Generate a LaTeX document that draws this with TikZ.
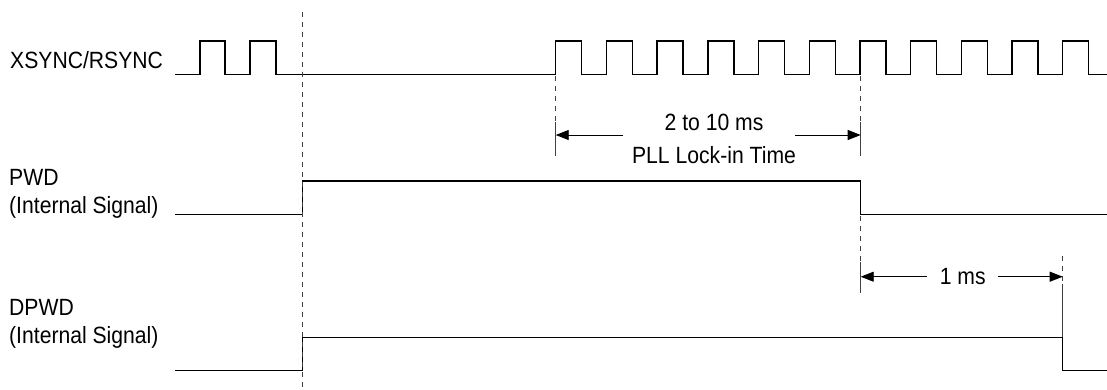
\documentclass[tikz,border=0pt]{standalone}
\usepackage{fontspec}
\setmainfont{Liberation Sans}[FakeStretch=0.9]
\usetikzlibrary{arrows.meta}
\begin{document}
\begin{tikzpicture}[x=1pt,y=-1pt,
  sig/.style={line width=1.4pt,line join=miter},
  guide/.style={line width=0.9pt,dash pattern=on 5pt off 5pt,black!75},
  ext/.style={line width=0.9pt,black!75},
  dimarrow/.style={line width=0.9pt,-{Triangle[length=13pt,width=10pt]}},
  lbl/.style={anchor=base west,inner sep=0pt,font=\fontsize{23.5}{28}\selectfont},
  dimtxt/.style={anchor=base,inner sep=0pt,font=\fontsize{23.5}{28}\selectfont}]
\useasboundingbox (0,0) rectangle (1107,389);
% labels
\node[lbl] (lx) at (10,68.3) {XSYNC/RSYNC};
\node[lbl] (lp1) at (9,185) {PWD};
\node[lbl] (lp2) at (9,213.3) {(Internal Signal)};
\node[lbl] (ld1) at (9,315) {DPWD};
\node[lbl] (ld2) at (9,343.3) {(Internal Signal)};
% signals
\draw[sig] (175,74.3) -- (200,74.3) -- (200,41) -- (225,41) -- (225,74.3) -- (250,74.3) -- (250,41) -- (276,41) -- (276,74.3)
  foreach \k in {0,...,10} { -- ({555.7+50.7*\k},74.3) -- ({555.7+50.7*\k},41) -- ({581.7+50.7*\k},41) -- ({581.7+50.7*\k},74.3) } -- (1107,74.3);
\draw[sig] (175,214.3) -- (302.3,214.3) -- (302.3,181) -- (860.7,181) -- (860.7,214.3) -- (1107,214.3);
\draw[sig] (175,370.7) -- (302.3,370.7) -- (302.3,337.3) -- (1062.7,337.3) -- (1062.7,370.7) -- (1107,370.7);
% guide lines
\coordinate (g0t) at (302.5,12); \coordinate (g0b) at (302.5,387);
\draw[guide] (g0t) -- (g0b);
\coordinate (g1t) at (555.7,76); \coordinate (g1m) at (555.7,122); \coordinate (g1b) at (555.7,156);
\draw[guide] (g1t) -- (g1m); \draw[ext] (g1m) -- (g1b);
\coordinate (g2t) at (860.7,76); \coordinate (g2m) at (860.7,122); \coordinate (g2b) at (860.7,156);
\draw[guide] (g2t) -- (g2m); \draw[ext] (g2m) -- (g2b);
\coordinate (g3t) at (860.7,216); \coordinate (g3m) at (860.7,262); \coordinate (g3b) at (860.7,293);
\draw[guide] (g3t) -- (g3m); \draw[ext] (g3m) -- (g3b);
\coordinate (g4t) at (1062.7,256); \coordinate (g4m) at (1062.7,284); \coordinate (g4b) at (1062.7,337);
\draw[guide] (g4t) -- (g4m); \draw[ext] (g4m) -- (g4b);
% dimension texts
\node[dimtxt] (t1) at (714,130) {2 to 10 ms};
\node[dimtxt] (t2) at (714,163.3) {PLL Lock-in Time};
\node[dimtxt] (t3) at (962.7,284) {1 ms};
% dimension arrows
\coordinate (a1s) at (623,135); \coordinate (a1e) at (555.7,135);
\coordinate (a2s) at (795,135); \coordinate (a2e) at (860.7,135);
\coordinate (a3s) at (927,276.7); \coordinate (a3e) at (860.7,276.7);
\coordinate (a4s) at (997.7,276.7); \coordinate (a4e) at (1062.7,276.7);
\draw[dimarrow] (a1s) -- (a1e);
\draw[dimarrow] (a2s) -- (a2e);
\draw[dimarrow] (a3s) -- (a3e);
\draw[dimarrow] (a4s) -- (a4e);
\end{tikzpicture}
\end{document}
